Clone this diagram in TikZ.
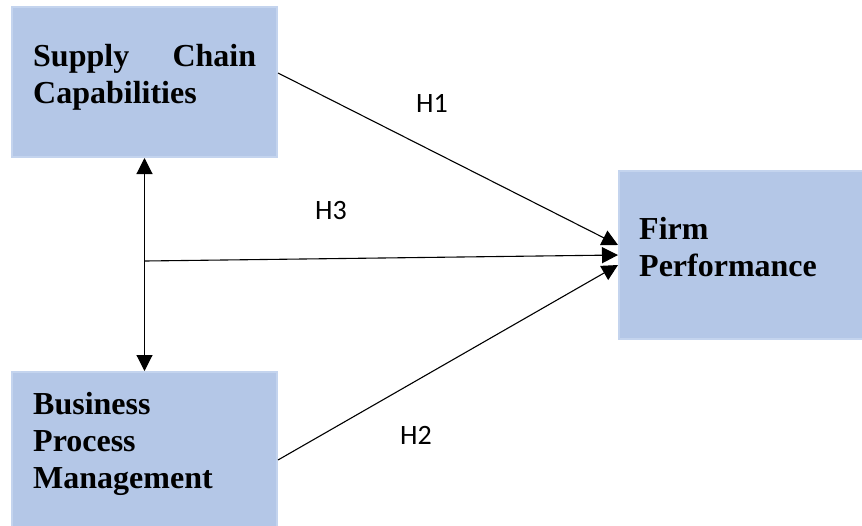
\documentclass[tikz,border=0pt]{standalone}
\usepackage{fontspec}
\setmainfont{Liberation Serif}
\newfontfamily\labelfont{Carlito}
\usetikzlibrary{arrows.meta}

\definecolor{boxblue}{RGB}{180,199,231}
\definecolor{boxedge}{RGB}{196,212,238}

\tikzset{
  varbox/.style={draw=boxedge, line width=2pt, fill=boxblue, inner sep=0pt},
  boxtext/.style={anchor=north west, inner sep=0pt, align=left, font=\bfseries\fontsize{32}{37}\selectfont},
  hyplabel/.style={inner sep=0.75pt, font=\labelfont\fontsize{28}{32}\selectfont},
  link/.style={line width=1.1pt, -{Triangle[length=16pt,width=16pt]}}
}

\begin{document}
\begin{tikzpicture}[x=1pt,y=1pt,yscale=-1,xscale=1]
\useasboundingbox (0,0) rectangle (862,525);

%Shape: Rectangle [id:scc] 
\node [varbox, minimum width=265pt, minimum height=150pt] (scc) at (144.5,82) {};
%Shape: Rectangle [id:bpm] 
\node [varbox, minimum width=265pt, minimum height=156pt] (bpm) at (144.5,450) {};
%Shape: Rectangle [id:fp] 
\node [varbox, minimum width=246pt, minimum height=168pt] (fp) at (742,255) {};

% Text Node
\node [boxtext, text width=223pt] (scctext) at (33,44) {Supply\hfill Chain\\Capabilities};
% Text Node
\node [boxtext] (bpmtext) at (33,392) {Business\\Process\\Management};
% Text Node
\node [boxtext] (fptext) at (639,217) {Firm\\Performance};

%Straight Lines [id:h1] 
\draw [link] ([yshift=-9pt]scc.east) -- ([yshift=-10pt]fp.west);
%Straight Lines [id:h2] 
\draw [link] ([yshift=10pt]bpm.east) -- ([yshift=10pt]fp.west);
%Straight Lines [id:h3] 
\coordinate (h3start) at (145,261);
\draw [link] (h3start) -- (fp.west);
%Straight Lines [id:corr] 
\draw [link, {Triangle[length=16pt,width=16pt]}-{Triangle[length=16pt,width=16pt]}] (scc.south) -- (bpm.north);

% Text Node
\node [hyplabel] (h1label) at (432,103) {H1};
% Text Node
\node [hyplabel] (h3label) at (331,211) {H3};
% Text Node
\node [hyplabel] (h2label) at (416,435) {H2};

\end{tikzpicture}
\end{document}
